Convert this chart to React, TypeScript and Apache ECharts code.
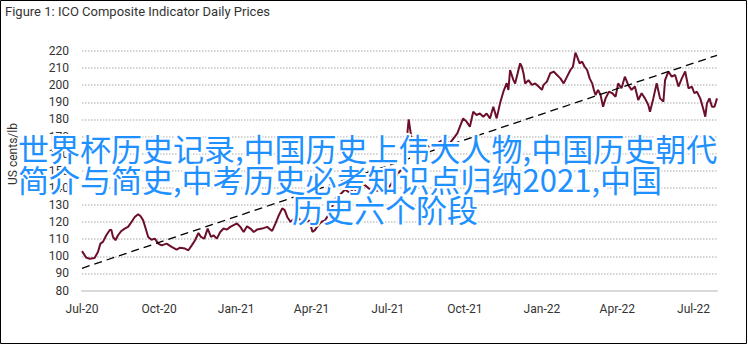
import React, { useEffect, useRef } from "react";
import * as echarts from "echarts";

const titleText = "Figure 1: ICO Composite Indicator Daily Prices";
const yAxisName = "US cents/lb";
const startDate = "2020-07-01";
const endDate = "2022-07-29";
const yMin = 80;
const yMax = 220;
const yInterval = 10;
const monthNames = ["Jan", "Feb", "Mar", "Apr", "May", "Jun", "Jul", "Aug", "Sep", "Oct", "Nov", "Dec"];
const labelMonths = [1, 4, 7, 10];

const priceDates = [
  "2020-07-01", "2020-07-06", "2020-07-10", "2020-07-16", "2020-07-20", "2020-07-23", "2020-07-26", "2020-07-30",
  "2020-08-03", "2020-08-05", "2020-08-07", "2020-08-10", "2020-08-13", "2020-08-17", "2020-08-21", "2020-08-25", "2020-08-29",
  "2020-09-02", "2020-09-06", "2020-09-09", "2020-09-12", "2020-09-15", "2020-09-18", "2020-09-22", "2020-09-26", "2020-09-30",
  "2020-10-04", "2020-10-10", "2020-10-16", "2020-10-22", "2020-10-26",
  "2020-11-01", "2020-11-05", "2020-11-09", "2020-11-13", "2020-11-17", "2020-11-20", "2020-11-24", "2020-11-28",
  "2020-12-02", "2020-12-05", "2020-12-09", "2020-12-13", "2020-12-17", "2020-12-21", "2020-12-25", "2020-12-29",
  "2021-01-02", "2021-01-06", "2021-01-10", "2021-01-14", "2021-01-18", "2021-01-22", "2021-01-26",
  "2021-02-01", "2021-02-07", "2021-02-13", "2021-02-17", "2021-02-21", "2021-02-25", "2021-02-28",
  "2021-03-03", "2021-03-07", "2021-03-11", "2021-03-15", "2021-03-19", "2021-03-25", "2021-03-29", "2021-03-31",
  "2021-04-02", "2021-04-05", "2021-04-09", "2021-04-13", "2021-04-17", "2021-04-21", "2021-04-25", "2021-04-27",
  "2021-05-01", "2021-05-05", "2021-05-11", "2021-05-17", "2021-05-21", "2021-05-25", "2021-05-31",
  "2021-06-06", "2021-06-13", "2021-06-22", "2021-06-30",
  "2021-07-07", "2021-07-13", "2021-07-19", "2021-07-23", "2021-07-26", "2021-07-29",
  "2021-08-01", "2021-08-06", "2021-08-12", "2021-08-20", "2021-08-29",
  "2021-09-05", "2021-09-13", "2021-09-22", "2021-09-25", "2021-09-29",
  "2021-10-03", "2021-10-07", "2021-10-11", "2021-10-15", "2021-10-19", "2021-10-23", "2021-10-27", "2021-10-31",
  "2021-11-04", "2021-11-08", "2021-11-12", "2021-11-16", "2021-11-20", "2021-11-22", "2021-11-24", "2021-11-28", "2021-11-30",
  "2021-12-02", "2021-12-06", "2021-12-08", "2021-12-10", "2021-12-12", "2021-12-16", "2021-12-20", "2021-12-24", "2021-12-28",
  "2022-01-01", "2022-01-03", "2022-01-07", "2022-01-11", "2022-01-15", "2022-01-19", "2022-01-23", "2022-01-27", "2022-01-31",
  "2022-02-04", "2022-02-07", "2022-02-10", "2022-02-12", "2022-02-15", "2022-02-18", "2022-02-21", "2022-02-24", "2022-02-27",
  "2022-03-02", "2022-03-04", "2022-03-06", "2022-03-09", "2022-03-12", "2022-03-15", "2022-03-18", "2022-03-22", "2022-03-26", "2022-03-30",
  "2022-04-02", "2022-04-06", "2022-04-10", "2022-04-14", "2022-04-18", "2022-04-22", "2022-04-26", "2022-04-30",
  "2022-05-04", "2022-05-08", "2022-05-10", "2022-05-14", "2022-05-18", "2022-05-22", "2022-05-26", "2022-05-28",
  "2022-06-01", "2022-06-05", "2022-06-09", "2022-06-13", "2022-06-17", "2022-06-21", "2022-06-25", "2022-06-29",
  "2022-07-02", "2022-07-05", "2022-07-09", "2022-07-13", "2022-07-15", "2022-07-17", "2022-07-20", "2022-07-23", "2022-07-26", "2022-07-29",
];

const prices = [
  103, 99.2, 98.6, 99, 102.5, 107.4, 108.4, 112.3,
  115.2, 115.6, 111.3, 109.4, 112.3, 114.8, 116.2, 117.2, 120,
  123, 124.6, 123.4, 121, 116.2, 111.3, 109.7, 110.3, 107.4,
  106.4, 107.4, 105.5, 103.9, 105,
  104.5, 103.5, 106.4, 109.4, 113.6, 111.3, 110.3, 116.2,
  111.3, 112.3, 110.3, 114.2, 116.2, 115.6, 117.2, 118.2,
  119.2, 117.2, 114.2, 117.5, 116.2, 114.2, 115.6,
  116.2, 117.2, 114.8, 119.2, 124, 128, 127,
  123, 120, 122, 123, 121, 120, 121, 118.2,
  114.3, 115.3, 118.2, 120.2, 121, 124, 128, 131,
  134.8, 136, 139, 137, 140, 137.7, 142.8,
  140.7, 137.8, 138.7, 138.7,
  143.6, 148, 152, 165, 180, 170,
  166, 164, 166, 164, 166,
  168, 166, 171.8, 175.7, 180.6,
  178.7, 175.7, 184.5, 182.6, 183.5, 181.6, 183.5, 180.6,
  187.4, 180.6, 189.4, 196.2, 201.2, 197.2, 208.9, 203, 201,
  205, 212.8, 210.8, 207, 201, 203, 200.2, 201, 199.2,
  197.3, 200.2, 202.1, 207, 208, 206, 204, 201.1, 205,
  208.9, 210.8, 219, 216.7, 212.8, 213.8, 210.8, 208.9, 204,
  201.1, 197.3, 194.3, 197.3, 194.3, 187.4, 192.3, 196.2, 195.3, 193.3,
  201.1, 198.2, 205, 200.2, 197.3, 199.2, 191.4, 195.3,
  192.3, 188.4, 184.5, 192.3, 201.1, 192.3, 190.4, 203,
  208, 205, 206, 199.2, 204, 208, 198.2, 199.2,
  195.3, 196.2, 192.3, 185.5, 181.6, 189.4, 192.3, 187.4, 187.4, 192.3,
];

const trendDates = [startDate, endDate];
const trendValues = [93, 217.5];

const overlayLines = [
  "世界杯历史记录,中国历史上伟大人物,中国历史朝代",
  "简介与简史,中考历史必考知识点归纳2021,中国",
  "历史六个阶段",
];

function buildCategories(start: string, end: string): string[] {
  const out: string[] = [];
  const d = new Date(start + "T00:00:00Z");
  const e = new Date(end + "T00:00:00Z");
  while (d.getTime() <= e.getTime()) {
    out.push(d.toISOString().slice(0, 10));
    d.setUTCDate(d.getUTCDate() + 1);
  }
  return out;
}

export default function App() {
  const ref = useRef<HTMLDivElement>(null);
  useEffect(() => {
    if (!ref.current) return;
    const chart = echarts.init(ref.current, undefined, { renderer: "svg" });
    const categories = buildCategories(startDate, endDate);
    const font = "Roboto, 'Noto Sans', sans-serif";
    const cjkFont = "'Noto Sans CJK SC', sans-serif";
    const overlayStyle = {
      fill: "#1E90FF",
      stroke: "#ffffff",
      lineWidth: 4,
      fontSize: 31,
      fontFamily: cjkFont,
      align: "left",
      verticalAlign: "middle",
    };
    chart.setOption({
      animation: false,
      backgroundColor: "#ffffff",
      title: {
        text: titleText,
        left: 5,
        top: 5,
        padding: 0,
        textStyle: { fontSize: 13, fontWeight: "normal", color: "#333", fontFamily: font },
      },
      grid: { left: 82, right: 31, top: 51, bottom: 55.5, containLabel: false },
      xAxis: {
        type: "category",
        data: categories,
        boundaryGap: false,
        axisLine: { show: true, lineStyle: { color: "#d9d9d9", width: 2 } },
        axisTick: { show: false },
        splitLine: { show: false },
        axisLabel: {
          interval: (_i: number, v: string) => v.slice(8) === "01" && labelMonths.includes(Number(v.slice(5, 7))),
          formatter: (v: string) => monthNames[Number(v.slice(5, 7)) - 1] + "-" + v.slice(2, 4),
          margin: 12,
          fontSize: 12,
          color: "#333",
          fontFamily: font,
        },
      },
      yAxis: {
        type: "value",
        min: yMin,
        max: yMax,
        interval: yInterval,
        axisLine: { show: false },
        axisTick: { show: false },
        axisLabel: { margin: 13, fontSize: 12, color: "#333", fontFamily: font },
        splitLine: { show: true, lineStyle: { color: "#c4c4c4", width: 1.5, type: [1.5, 1.5] } },
      },
      series: [
        {
          type: "line",
          name: "ICO Composite",
          data: priceDates.map((d, i) => [d, prices[i]]),
          symbol: "none",
          lineStyle: { color: "#6B0F2A", width: 2 },
          z: 3,
        },
        {
          type: "line",
          name: "Trend",
          data: trendDates.map((d, i) => [d, trendValues[i]]),
          symbol: "none",
          lineStyle: { color: "#000", width: 1.3, type: [8, 5] },
          z: 4,
        },
      ],
      graphic: [
        {
          type: "rect",
          shape: { x: 0.5, y: 0.5, width: 746, height: 343 },
          style: { fill: "none", stroke: "#000", lineWidth: 1 },
          silent: true,
          z: 1,
        },
        {
          type: "text",
          x: 13,
          y: 154,
          rotation: Math.PI / 2,
          style: { text: yAxisName, fill: "#333", fontSize: 12, fontFamily: font, align: "center", verticalAlign: "middle" },
          z: 5,
        },
        { type: "text", x: 18, y: 147, z: 100, style: { ...overlayStyle, text: overlayLines[0] } },
        { type: "text", x: 18, y: 178, z: 100, style: { ...overlayStyle, text: overlayLines[1] } },
        { type: "text", x: 292, y: 208, z: 100, style: { ...overlayStyle, text: overlayLines[2] } },
      ],
    });
    return () => chart.dispose();
  }, []);
  return (
    <div
      ref={ref}
      style={{ position: "fixed", left: 0, top: 0, width: 748, height: 346, background: "#fff" }}
    />
  );
}
